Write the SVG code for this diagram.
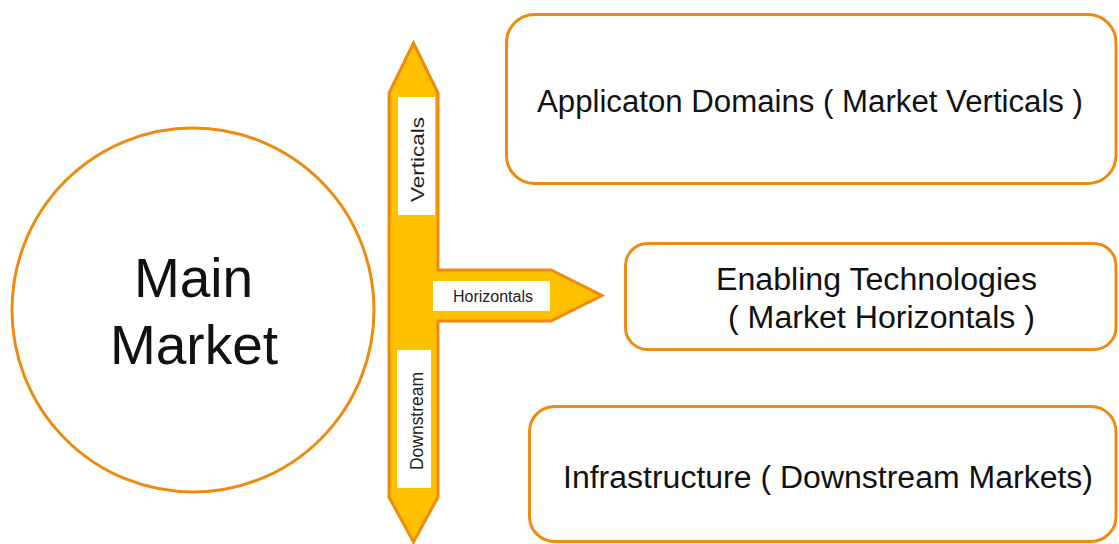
<svg xmlns="http://www.w3.org/2000/svg" width="1119" height="544" viewBox="0 0 1119 544">
  <style>
    .outline { fill: #FFFFFF; stroke: #EF8A0E; stroke-width: 3; }
    .big { font-family: "Liberation Sans", Arial, sans-serif; fill: #111111; text-anchor: middle; }
    .lbl { font-family: "Liberation Sans", Arial, sans-serif; fill: #222222; text-anchor: middle; }
    .tag { fill: #FFFFFF; stroke: none; }
    .arrow { fill: #FFC000; stroke: #EF8A0E; stroke-width: 3; stroke-linejoin: miter; }
  </style>
  <rect width="1119" height="544" fill="#FFFFFF"/>

  <g id="main-market">
    <ellipse class="outline" cx="193" cy="310" rx="181" ry="182" stroke-width="2.5"/>
    <text class="big" x="193.5" y="297" font-size="55">Main</text>
    <text class="big" x="194" y="364" font-size="55">Market</text>
  </g>

  <g id="connectors">
    <path class="arrow" d="M413.5,43 L438,93 L438,270 L551,270 L602,295.5 L551,321 L438,321 L438,497 L413.5,542 L389,497 L389,93 Z"/>
    <g id="label-verticals">
      <rect class="tag" x="398" y="97" width="37" height="118"/>
      <text class="lbl" transform="translate(424,159.5) rotate(-90)" x="0" y="0" font-size="19" textLength="85" lengthAdjust="spacingAndGlyphs">Verticals</text>
    </g>
    <g id="label-horizontals">
      <rect class="tag" x="433" y="281" width="117" height="30"/>
      <text class="lbl" x="493" y="302" font-size="16">Horizontals</text>
    </g>
    <g id="label-downstream">
      <rect class="tag" x="397" y="350" width="34" height="138"/>
      <text class="lbl" transform="translate(423,421) rotate(-90)" x="0" y="0" font-size="17.5" textLength="98" lengthAdjust="spacingAndGlyphs">Downstream</text>
    </g>
  </g>

  <g id="application-domains">
    <rect class="outline" x="506.5" y="14.5" width="609.5" height="169" rx="28" ry="28"/>
    <text class="big" x="810" y="112" font-size="31" textLength="546" lengthAdjust="spacingAndGlyphs">Applicaton Domains ( Market Verticals )</text>
  </g>

  <g id="enabling-technologies">
    <rect class="outline" x="625.5" y="243.5" width="490.5" height="106" rx="22" ry="22"/>
    <text class="big" x="876.5" y="290" font-size="31" textLength="321" lengthAdjust="spacingAndGlyphs">Enabling Technologies</text>
    <text class="big" x="881.5" y="328" font-size="31" textLength="307" lengthAdjust="spacingAndGlyphs">( Market Horizontals )</text>
  </g>

  <g id="infrastructure">
    <rect class="outline" x="529.5" y="406.5" width="586.5" height="135" rx="25" ry="25"/>
    <text class="big" x="828" y="488" font-size="31" textLength="530" lengthAdjust="spacingAndGlyphs">Infrastructure ( Downstream Markets)</text>
  </g>
</svg>
